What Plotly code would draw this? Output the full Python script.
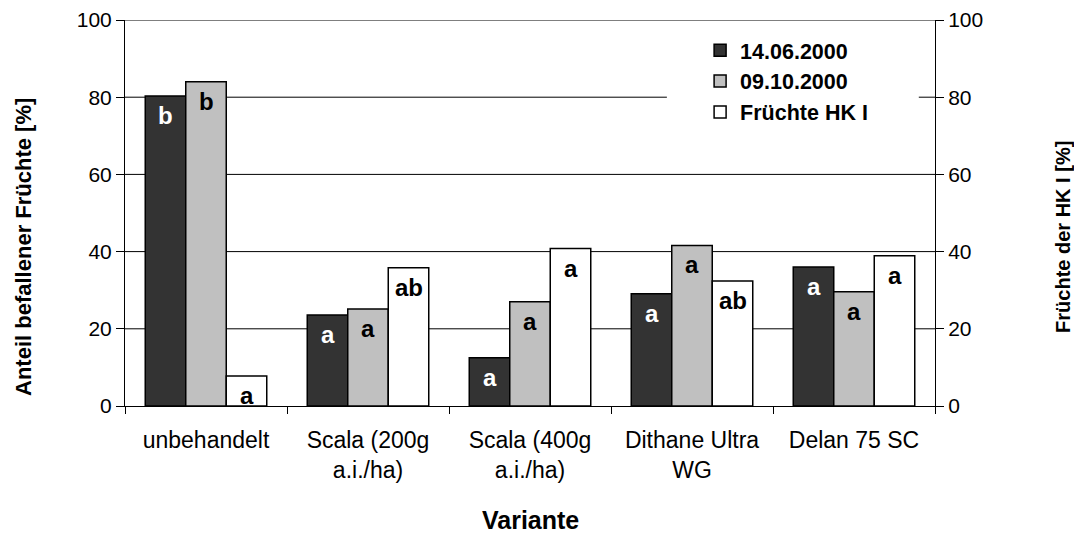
import plotly.graph_objects as go

categories = ["unbehandelt", "Scala (200g<br>a.i./ha)", "Scala (400g<br>a.i./ha)",
              "Dithane Ultra<br>WG", "Delan 75 SC"]
series_names = ["14.06.2000", "09.10.2000", "Früchte HK I"]
befall_140600 = [80.3, 23.6, 12.5, 29.1, 36.0]
befall_091000 = [84.0, 25.1, 27.0, 41.6, 29.6]
fruechte_hk1 = [7.8, 35.8, 40.8, 32.4, 38.9]
letters_140600 = ["b", "a", "a", "a", "a"]
letters_091000 = ["b", "a", "a", "a", "a"]
letters_hk1 = ["a", "ab", "a", "ab", "a"]
y_ticks = [0, 20, 40, 60, 80, 100]

FONT = "Liberation Sans, Arial, sans-serif"
colors = ["#333333", "#C0C0C0", "#FFFFFF"]
label_colors = ["white", "black", "black"]
values = [befall_140600, befall_091000, fruechte_hk1]
letters = [letters_140600, letters_091000, letters_hk1]
yaxes = ["y", "y", "y2"]
bargap = 0.25
bar_w = (1 - bargap) / 3

fig = go.Figure()
for k in range(3):
    fig.add_trace(go.Bar(
        x=categories, y=values[k], name=series_names[k], yaxis=yaxes[k],
        marker=dict(color=colors[k], line=dict(color="black", width=1.5)),
        offsetgroup=str(k), alignmentgroup="g",
    ))

annotations = []
for k in range(3):
    for i, (v, t) in enumerate(zip(values[k], letters[k])):
        annotations.append(dict(
            x=i + (k - 1) * bar_w, y=v, xref="x", yref=yaxes[k],
            text=t, showarrow=False, xanchor="center", yanchor="top", yshift=-4,
            font=dict(family=FONT, size=24, color=label_colors[k], weight="bold"),
        ))

annotations += [
    dict(text="<b>Anteil befallener Früchte [%]</b>", xref="paper", yref="paper",
         x=-0.1247, y=0.412, textangle=-90, showarrow=False,
         xanchor="center", yanchor="middle",
         font=dict(family=FONT, size=22, color="black")),
    dict(text="<b>Früchte der HK I [%]</b>", xref="paper", yref="paper",
         x=1.158, y=0.438, textangle=-90, showarrow=False,
         xanchor="center", yanchor="middle",
         font=dict(family=FONT, size=20, color="black")),
    dict(text="<b>Variante</b>", xref="paper", yref="paper",
         x=0.5, y=-0.295, showarrow=False, xanchor="center", yanchor="middle",
         font=dict(family=FONT, size=25, color="black")),
]

# horizontal grid lines (the 80 line is interrupted by the legend)
shapes = []
for t in y_ticks[1:]:
    if t == 80:
        segs = [(0, 0.669), (0.980, 1.0)]
    else:
        segs = [(0, 1.0)]
    for a, b in segs:
        shapes.append(dict(type="line", xref="paper", yref="y", x0=a, x1=b, y0=t, y1=t,
                           line=dict(color="black", width=1), layer="below"))

fig.update_layout(
    width=1074, height=541,
    margin=dict(l=117, r=147, t=12, b=143, autoexpand=False),
    paper_bgcolor="white", plot_bgcolor="white",
    barmode="group", bargap=bargap, bargroupgap=0,
    font=dict(family=FONT, size=21, color="black"),
    showlegend=True,
    legend=dict(x=0.71, y=0.975, xanchor="left", yanchor="top",
                bgcolor="rgba(0,0,0,0)", borderwidth=0,
                font=dict(family=FONT, size=21.5, color="black", weight="bold"),
                tracegroupgap=0),
    xaxis=dict(showline=True, linecolor="black", linewidth=1, ticks="outside",
               tickson="boundaries", ticklen=7, tickcolor="black", showgrid=False,
               ticklabelstandoff=13, automargin=False,
               tickfont=dict(family=FONT, size=23, color="black")),
    yaxis=dict(range=[0, 100], tickvals=y_ticks, showline=True, linecolor="black",
               linewidth=1, ticks="outside", ticklen=8, tickcolor="black",
               showgrid=False, zeroline=False, automargin=False,
               tickfont=dict(family=FONT, size=21, color="black")),
    yaxis2=dict(range=[0, 100], tickvals=y_ticks, overlaying="y", side="right",
                anchor="x", showline=True, linecolor="black", linewidth=1,
                ticks="outside", ticklen=8, tickcolor="black",
                showgrid=False, zeroline=False, automargin=False,
                tickfont=dict(family=FONT, size=21, color="black")),
    annotations=annotations,
    shapes=shapes,
)

fig.write_html("out.html")
